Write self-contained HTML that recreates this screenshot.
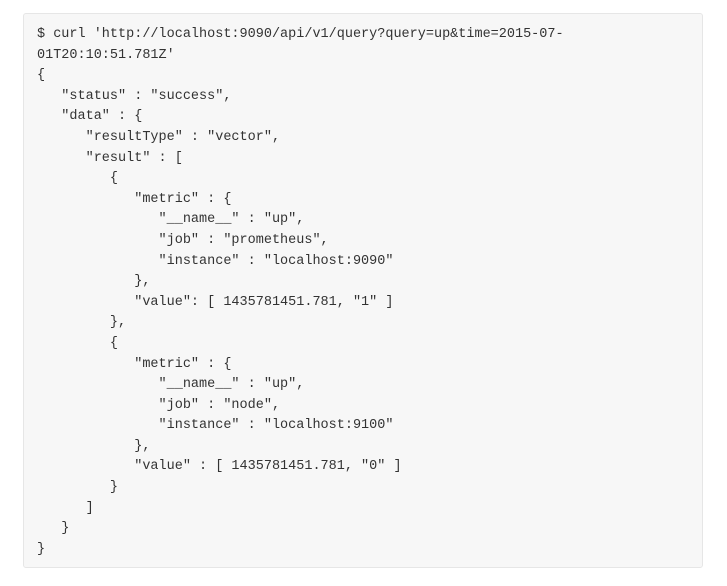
<!DOCTYPE html>
<html><head><style>
html,body{margin:0;padding:0;background:#fff;width:727px;height:586px;overflow:hidden}
.box{position:absolute;left:23px;top:13px;width:680px;height:555px;background:#f7f7f7;border:1px solid #e6e6e6;border-radius:3px;box-sizing:border-box}
pre{position:absolute;left:37px;top:25px;margin:0;font-family:"Liberation Mono",monospace;font-size:13.5px;line-height:20.6px;color:#333;white-space:pre}
</style></head><body>
<div class="box"></div>
<pre>$ curl 'http://localhost:9090/api/v1/query?query=up&amp;time=2015-07-
01T20:10:51.781Z'
{
   "status" : "success",
   "data" : {
      "resultType" : "vector",
      "result" : [
         {
            "metric" : {
               "__name__" : "up",
               "job" : "prometheus",
               "instance" : "localhost:9090"
            },
            "value": [ 1435781451.781, "1" ]
         },
         {
            "metric" : {
               "__name__" : "up",
               "job" : "node",
               "instance" : "localhost:9100"
            },
            "value" : [ 1435781451.781, "0" ]
         }
      ]
   }
}</pre>
</body></html>
